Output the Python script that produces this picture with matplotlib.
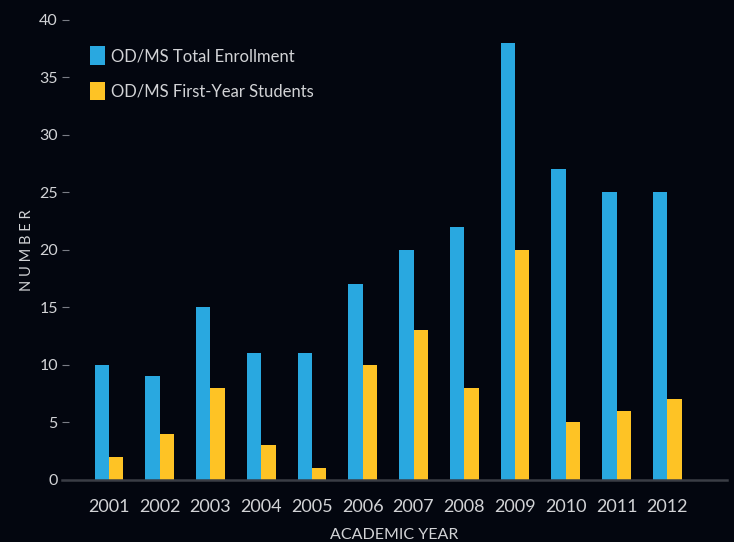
import numpy as np
import matplotlib
matplotlib.use('Agg')
import matplotlib.pyplot as plt

# values
years = ['2001', '2002', '2003', '2004', '2005', '2006',
         '2007', '2008', '2009', '2010', '2011', '2012']
total_enrollment = [10, 9, 15, 11, 11, 17, 20, 22, 38, 27, 25, 25]
first_year = [2, 4, 8, 3, 1, 10, 13, 8, 20, 5, 6, 7]

bg = '#03060f'
blue = '#29a8e0'
yellow = '#fec325'
txt = '#d2d3d6'

plt.rcParams['font.family'] = ['Lato', 'DejaVu Sans']

fig = plt.figure(figsize=(7.34, 5.42), dpi=100, facecolor=bg)
ax = fig.add_axes([0.0845, 0.1144, 0.9055, 0.8487])
ax.set_facecolor(bg)

x = np.arange(len(years))
w = 0.285
ax.bar(x - w / 2, total_enrollment, w, color=blue, label='OD/MS Total Enrollment')
ax.bar(x + w / 2, first_year, w, color=yellow, label='OD/MS First-Year Students')

ax.set_xlim(-0.925, 12.17)
ax.set_ylim(0, 40)
ax.set_yticks(range(0, 41, 5))
ax.set_xticks(x)
ax.set_xticklabels(years)

for s in ['top', 'right', 'left']:
    ax.spines[s].set_visible(False)
ax.spines['bottom'].set_color('#3a3d45')
ax.spines['bottom'].set_linewidth(1.8)

ax.tick_params(axis='y', direction='in', length=5, width=0.8, color='#7a7d85',
               labelcolor=txt, labelsize=11.5, pad=3)
ax.tick_params(axis='x', length=0, labelcolor=txt, labelsize=13, pad=14)

ax.set_ylabel('N U M B E R', color=txt, fontsize=10.5, labelpad=4)
ax.set_xlabel('ACADEMIC YEAR', color=txt, fontsize=11.5, labelpad=9)

leg = ax.legend(loc='upper left', bbox_to_anchor=(0.02, 0.975), frameon=False,
                handlelength=0.9, handleheight=1.3, handletextpad=0.35,
                labelspacing=1.05, labelcolor=txt, prop={'size': 12})

fig.savefig('out.png', dpi=100, facecolor=bg)
